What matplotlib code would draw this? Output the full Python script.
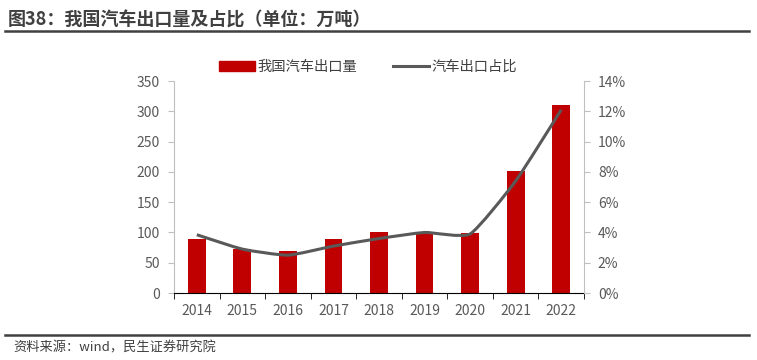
import matplotlib
matplotlib.use("Agg")
import matplotlib.pyplot as plt
from matplotlib.path import Path
from matplotlib.patches import PathPatch
from matplotlib.lines import Line2D
from matplotlib.patches import Patch
import numpy as np

plt.rcParams['font.family'] = ['Noto Sans CJK SC', 'DejaVu Sans']

years = ["2014", "2015", "2016", "2017", "2018", "2019", "2020", "2021", "2022"]
export_vol = [90, 72, 70, 89, 100, 101, 99, 201, 311]
export_share = [3.85, 2.9, 2.5, 3.1, 3.6, 4.0, 3.9, 7.4, 12.1]

bar_color = "#C00000"
line_color = "#595959"
text_color = "#595959"

fig = plt.figure(figsize=(7.57, 3.6), dpi=100)
ax = fig.add_axes([0.2299, 0.186, 0.5416, 0.589])
x = np.arange(len(years))
ax.bar(x, export_vol, width=0.39, color=bar_color, zorder=2)
ax.set_xlim(-0.5, len(years) - 0.5)
ax.set_ylim(0, 350)
ax.set_yticks(range(0, 351, 50))
ax.set_xticks(x)
ax.set_xticklabels(years)
ax.set_xticks(np.arange(-0.5, len(years), 1), minor=True)
ax.tick_params(axis="x", which="major", length=0, pad=8, labelsize=10, labelcolor=text_color)
ax.tick_params(axis="x", which="minor", length=4, color="black", direction="out")
ax.tick_params(axis="y", length=4, color="#BFBFBF", labelsize=10, labelcolor=text_color, pad=6)
for s in ["top", "right"]:
    ax.spines[s].set_visible(False)
ax.spines["left"].set_color("#BFBFBF")
ax.spines["bottom"].set_color("black")

ax2 = ax.twinx()
ax2.set_ylim(0, 14)
ax2.set_yticks(range(0, 15, 2))
ax2.set_yticklabels([f"{v}%" for v in range(0, 15, 2)])
ax2.tick_params(axis="y", length=4, color="#BFBFBF", labelsize=10, labelcolor=text_color, pad=6)
for s in ["top", "left", "bottom"]:
    ax2.spines[s].set_visible(False)
ax2.spines["right"].set_color("#BFBFBF")

# lightly smoothed line (Bezier through the data points)
pts = np.column_stack([x, export_share]).astype(float)
verts = [pts[0]]
codes = [Path.MOVETO]
t = 1 / 12
for i in range(len(pts) - 1):
    p0 = pts[i - 1] if i > 0 else pts[i]
    p1, p2 = pts[i], pts[i + 1]
    p3 = pts[i + 2] if i + 2 < len(pts) else pts[i + 1]
    c1 = p1 + (p2 - p0) * t
    c2 = p2 - (p3 - p1) * t
    verts += [c1, c2, p2]
    codes += [Path.CURVE4] * 3
ax2.add_patch(PathPatch(Path(verts, codes), fill=False, edgecolor=line_color, lw=2.2, zorder=3))

handles = [Patch(color=bar_color), Line2D([], [], color=line_color, lw=2.2)]
fig.legend(handles, ["我国汽车出口量", "汽车出口占比"], loc="center", bbox_to_anchor=(0.486, 0.815),
           ncol=2, frameon=False, fontsize=10.3, handlelength=2.5, handleheight=0.7,
           handletextpad=0.2, columnspacing=2.5, labelcolor="#404040")

fig.text(0.010, 0.945, "图38：我国汽车出口量及占比（单位：万吨）", fontsize=13, fontweight="bold",
         color="#404040", va="center")
fig.add_artist(Line2D([0.007, 0.99], [0.915, 0.915], color="#404040", lw=1.8))
fig.add_artist(Line2D([0.007, 0.99], [0.069, 0.069], color="#404040", lw=1.8))
fig.text(0.018, 0.033, "资料来源：wind，民生证券研究院", fontsize=9.5, color="#404040", va="center")

fig.savefig("out.png", dpi=100)
